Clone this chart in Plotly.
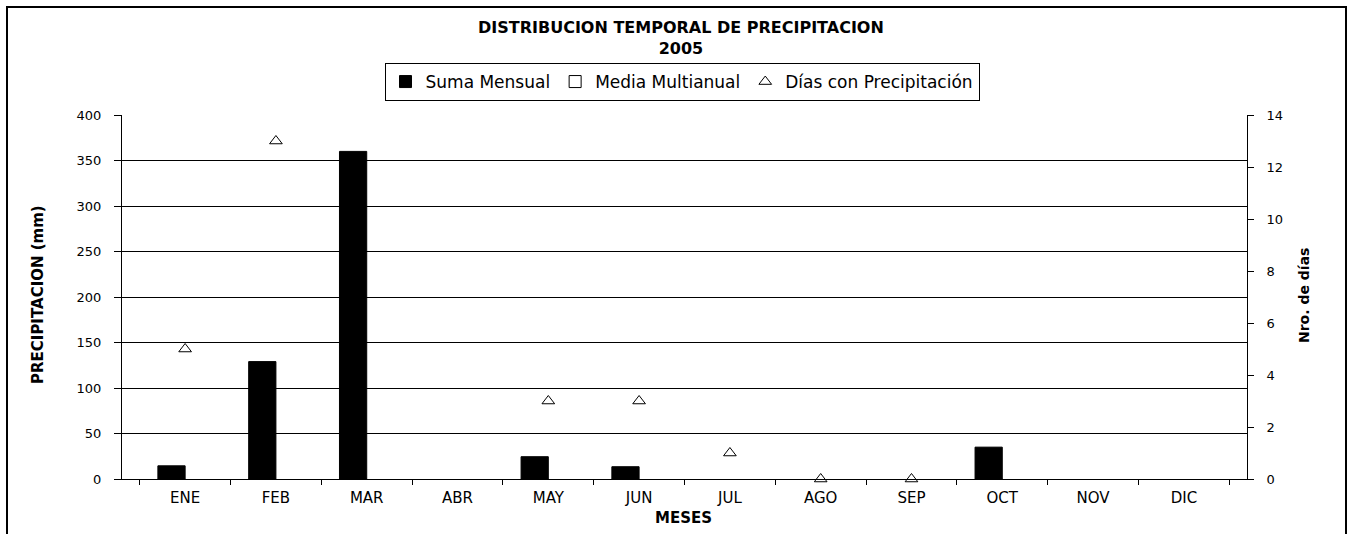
import plotly.graph_objects as go

months = ["ENE", "FEB", "MAR", "ABR", "MAY", "JUN", "JUL", "AGO", "SEP", "OCT", "NOV", "DIC"]
suma_mensual = [14.5, 129, 360, None, 24.5, 13.5, None, None, None, 35, None, None]
media_multianual = [None] * 12
dias_precip = [5, 13, None, None, 3, 3, 1, 0, 0, None, None, None]

y_ticks = [0, 50, 100, 150, 200, 250, 300, 350, 400]
y2_ticks = [0, 2, 4, 6, 8, 10, 12, 14]

FONT = "DejaVu Sans"

fig = go.Figure()
fig.add_trace(go.Bar(
    x=months, y=suma_mensual, name="Suma Mensual",
    marker=dict(color="black", line=dict(color="black", width=1)),
    offset=-0.3, width=0.3,
))
fig.add_trace(go.Bar(
    x=months, y=media_multianual, name="Media Multianual",
    marker=dict(color="white", line=dict(color="black", width=1)),
    offset=0.0, width=0.3,
))
fig.add_trace(go.Scatter(
    x=months, y=dias_precip, name="Días con Precipitación", yaxis="y2",
    mode="markers", cliponaxis=False,
    marker=dict(symbol="triangle-up-open", size=11, color="black", line=dict(color="black", width=1)),
))

L, R, T, B = 122, 102, 115, 55
W, H = 1349, 534
pw = W - L - R
ph = H - T - B

def px(x):
    return (x - L) / pw

def py(y):
    return (H - B - y) / ph

fig.update_layout(
    width=W, height=H,
    margin=dict(l=L, r=R, t=T, b=B, pad=0),
    paper_bgcolor="white", plot_bgcolor="white",
    font=dict(family=FONT, color="black", size=13),
    barmode="group",
    showlegend=True,
    legend=dict(
        orientation="h", x=px(682), xanchor="center", y=py(82), yanchor="middle",
        bordercolor="black", borderwidth=1, bgcolor="white",
        font=dict(family=FONT, size=17, color="black"),
        itemwidth=30, tracegroupgap=0,
    ),
    xaxis=dict(
        type="category", categoryorder="array", categoryarray=months,
        tickson="boundaries", ticks="outside", ticklen=5, tickcolor="black",
        showline=True, linecolor="black", linewidth=1,
        showgrid=False, zeroline=False,
        tickfont=dict(family=FONT, size=15, color="black"),
        ticklabelstandoff=5,
    ),
    yaxis=dict(
        range=[0, 400], tickvals=y_ticks,
        ticks="outside", ticklen=7, tickcolor="black",
        showline=True, linecolor="black", linewidth=1,
        showgrid=True, gridcolor="black", gridwidth=1,
        zeroline=False,
        tickfont=dict(family=FONT, size=13, color="black"),
        ticklabelstandoff=10,
    ),
    yaxis2=dict(
        range=[0, 14], tickvals=y2_ticks, overlaying="y", side="right",
        ticks="outside", ticklen=6, tickcolor="black",
        showline=True, linecolor="black", linewidth=1,
        showgrid=False, zeroline=False,
        tickfont=dict(family=FONT, size=13, color="black"),
        ticklabelstandoff=10,
    ),
    annotations=[
        dict(text="<b>DISTRIBUCION TEMPORAL DE PRECIPITACION</b><br><b>2005</b>", xref="paper", yref="paper",
             x=px(681), y=py(37.5), xanchor="center", yanchor="middle", showarrow=False,
             align="center", font=dict(family=FONT, size=16, color="black")),
        dict(text="<b>PRECIPITACION (mm)</b>", xref="paper", yref="paper",
             x=px(38), y=py(295), xanchor="center", yanchor="middle", showarrow=False,
             textangle=-90, font=dict(family=FONT, size=15, color="black")),
        dict(text="<b>Nro. de días</b>", xref="paper", yref="paper",
             x=px(1304), y=py(296), xanchor="center", yanchor="middle", showarrow=False,
             textangle=-90, font=dict(family=FONT, size=14, color="black")),
        dict(text="<b>MESES</b>", xref="paper", yref="paper",
             x=px(683.5), y=py(518), xanchor="center", yanchor="middle", showarrow=False,
             font=dict(family=FONT, size=15, color="black")),
    ],
    shapes=[
        dict(type="rect", xref="paper", yref="paper",
             x0=px(7), x1=px(1346), y0=py(545), y1=py(7),
             line=dict(color="black", width=2), fillcolor="rgba(0,0,0,0)", layer="above"),
    ],
)

fig.write_html(
    "out.html",
    config={"displayModeBar": False},
    post_script="document.body.style.margin='0';document.body.style.overflow='hidden';",
)
